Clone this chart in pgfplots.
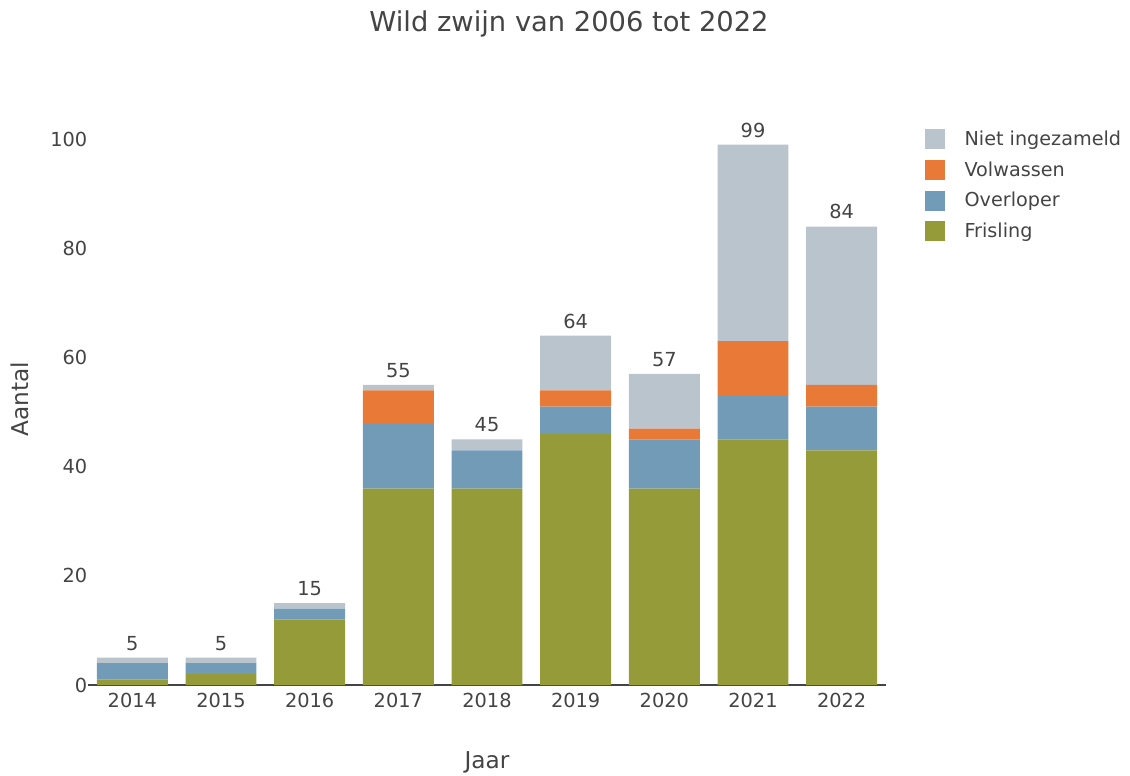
\documentclass[border=0pt]{standalone}
\usepackage{pgfplots}
\pgfplotsset{compat=1.18}
\usepackage{fontspec}
\setmainfont{DejaVu Sans}
\definecolor{txt}{HTML}{444444}
\definecolor{niet}{HTML}{BAC4CC}
\definecolor{volw}{HTML}{E87937}
\definecolor{overl}{HTML}{729BB7}
\definecolor{fris}{HTML}{959B38}
\pgfplotsset{
    base/.style={
        at={(88pt*0.75,90pt*0.75)}, anchor=south west,
        scale only axis,
        width=598.5pt, height=429.75pt,
        xmin=-0.5, xmax=8.5, ymin=0, ymax=105,
        clip=false,
        /pgf/number format/assume math mode=true,
    },
}
\begin{document}
\begin{tikzpicture}[x=0.75pt,y=0.75pt]
\useasboundingbox (0,0) rectangle (1130,775);
\begin{axis}[
    base,
    ybar stacked, bar width=0.8,
    xtick={0,...,8},
    xticklabels={2014,2015,2016,2017,2018,2019,2020,2021,2022},
    ytick={0,20,40,60,80,100},
    axis y line*=left,
    axis x line*=bottom,
    y axis line style={draw=none},
    x axis line style={draw=txt, line width=0.9pt, -},
    major tick length=0pt,
    tick style={draw=none},
    ticklabel style={font=\fontsize{14.5}{17}\selectfont, text=txt},
    yticklabel style={xshift=3pt},
    xticklabel style={yshift=-2.5pt},
    legend cell align=left,
    reverse legend,
    legend style={draw=none, fill=none, at={(1.043,0.977)}, anchor=north west,
        font=\fontsize{14.4}{17}\selectfont, text=txt, row sep=6.6pt,
        /tikz/every even column/.append style={column sep=6pt}},
    legend image code/.code={\fill[#1] (0pt,-7.5pt) rectangle (15pt,7.5pt);},
]
\addplot[fill=fris, draw=none] coordinates {(0,1) (1,2) (2,12) (3,36) (4,36) (5,46) (6,36) (7,45) (8,43)};
\addlegendentry{\hspace{13pt}Frisling}
\addplot[fill=overl, draw=none] coordinates {(0,3) (1,2) (2,2) (3,12) (4,7) (5,5) (6,9) (7,8) (8,8)};
\addlegendentry{\hspace{13pt}Overloper}
\addplot[fill=volw, draw=none] coordinates {(0,0) (1,0) (2,0) (3,6) (4,0) (5,3) (6,2) (7,10) (8,4)};
\addlegendentry{\hspace{13pt}Volwassen}
\addplot[fill=niet, draw=none] coordinates {(0,1) (1,1) (2,1) (3,1) (4,2) (5,10) (6,10) (7,36) (8,29)};
\addlegendentry{\hspace{13pt}Niet ingezameld}
\end{axis}
\begin{axis}[
    base,
    axis lines=none,
]
\addplot[draw=none, mark=none, nodes near coords,
    every node near coord/.append style={font=\fontsize{14.5}{17}\selectfont, text=txt, anchor=south, yshift=2pt}]
    coordinates {(0,5) (1,5) (2,15) (3,55) (4,45) (5,64) (6,57) (7,99) (8,84)};
\end{axis}
\node[text=txt, font=\fontsize{20.5}{24}\selectfont] at (569,751) {Wild zwijn van 2006 tot 2022};
\node[text=txt, font=\fontsize{17.4}{20}\selectfont, rotate=90] at (20,376) {Aantal};
\node[text=txt, font=\fontsize{17.4}{20}\selectfont] at (487,13) {Jaar};
\end{tikzpicture}
\end{document}
